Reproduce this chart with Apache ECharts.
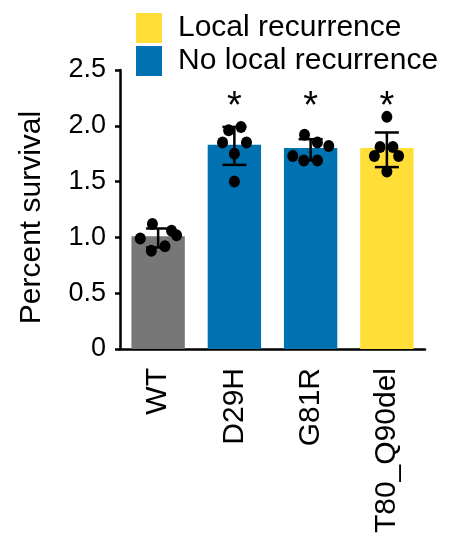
<!DOCTYPE html>
<html>
<head>
<meta charset="utf-8">
<script src="https://cdn.jsdelivr.net/npm/echarts@6/dist/echarts.min.js"></script>
<style>html,body{margin:0;padding:0;background:#fff}#c{width:459px;height:539px}</style>
</head>
<body>
<div id="c"></div>
<script>
// ---- data ----
var categories = ['WT', 'D29H', 'G81R', 'T80_Q90del'];
var groups = ['control', 'No local recurrence', 'No local recurrence', 'Local recurrence'];
var means = [1.01, 1.83, 1.80, 1.80];
var errLow = [0.91, 1.65, 1.69, 1.63];
var errHigh = [1.08, 1.99, 1.88, 1.94];
var points = [
  [1.12, 0.99, 1.06, 1.02, 0.88, 0.92],
  [1.96, 1.99, 1.85, 1.85, 1.75, 1.50],
  [1.92, 1.85, 1.82, 1.73, 1.69, 1.69],
  [2.08, 1.81, 1.81, 1.73, 1.73, 1.59]
];
var jitter = [
  [-0.075, -0.234, 0.176, 0.242, -0.089, 0.089],
  [-0.075, 0.087, -0.155, 0.159, 0, 0],
  [-0.08, 0.089, 0.238, -0.234, -0.089, 0.089],
  [0, -0.089, 0.079, -0.164, 0.154, 0]
];
var significance = ['', '*', '*', '*'];
var sigLevel = 2.16;
var yTicks = [0, 0.5, 1.0, 1.5, 2.0, 2.5];

// ---- build ----
var FONT = 'Liberation Sans, Arial, sans-serif';
var colors = { 'control': '#777777', 'No local recurrence': '#0072B2', 'Local recurrence': '#FFDE37' };
function barData(g) {
  return means.map(function (m, i) { return groups[i] === g ? m : null; });
}
var scatterData = [];
points.forEach(function (arr, i) {
  arr.forEach(function (v, k) { scatterData.push([i + jitter[i][k], v]); });
});
var errData = categories.map(function (c, i) { return [i, errLow[i], errHigh[i]]; });
var sigData = categories.map(function (c, i) { return significance[i] ? [i, sigLevel] : [i, null]; });

var chart = echarts.init(document.getElementById('c'), null, { renderer: 'canvas' });
chart.setOption({
  animation: false,
  textStyle: { fontFamily: FONT },
  legend: {
    orient: 'vertical', left: 136, top: 13, padding: 0,
    itemWidth: 26, itemHeight: 30, itemGap: 3, icon: 'rect',
    data: ['Local recurrence', 'No local recurrence'],
    textStyle: { fontSize: 30, color: '#000', fontFamily: FONT, padding: [8, 0, 0, 11] }
  },
  grid: { left: 120, right: 34, top: 70, bottom: 190, containLabel: false },
  xAxis: [{
    type: 'category', data: categories,
    axisLine: { onZero: false, lineStyle: { color: '#000', width: 2.5 } },
    axisTick: { alignWithLabel: true, length: 6, lineStyle: { color: '#000', width: 2.5 } },
    axisLabel: { rotate: 90, fontSize: 30, color: '#000', margin: 19, fontFamily: FONT }
  }, {
    type: 'value', min: -0.5, max: 3.5, show: false
  }],
  yAxis: {
    type: 'value', min: 0, max: 2.5, interval: 0.5,
    name: 'Percent survival', nameLocation: 'middle', nameGap: 73,
    nameTextStyle: { fontSize: 30, color: '#000', fontFamily: FONT, padding: [0, 16, 0, 0] },
    axisLine: { show: true, onZero: false, lineStyle: { color: '#000', width: 2.5 } },
    axisTick: { show: true, length: 5, lineStyle: { color: '#000', width: 2.5 } },
    splitLine: { show: false },
    axisLabel: {
      fontSize: 27, color: '#000', margin: 14, fontFamily: FONT,
      formatter: function (v) { return v === 0 ? '0' : v.toFixed(1); }
    }
  },
  series: [
    { type: 'bar', name: 'control', data: barData('control'), barWidth: '70%', barGap: '-100%', itemStyle: { color: colors.control } },
    { type: 'bar', name: 'No local recurrence', data: barData('No local recurrence'), barWidth: '70%', barGap: '-100%', itemStyle: { color: colors['No local recurrence'] } },
    { type: 'bar', name: 'Local recurrence', data: barData('Local recurrence'), barWidth: '70%', barGap: '-100%', itemStyle: { color: colors['Local recurrence'] } },
    {
      type: 'custom', name: 'err', data: errData, z: 5,
      renderItem: function (params, api) {
        var i = api.value(0);
        var lo = api.coord([i, api.value(1)]);
        var hi = api.coord([i, api.value(2)]);
        var hw = 12;
        var st = { stroke: '#000', lineWidth: 2.5 };
        return { type: 'group', children: [
          { type: 'line', shape: { x1: lo[0], y1: lo[1], x2: hi[0], y2: hi[1] }, style: st },
          { type: 'line', shape: { x1: lo[0] - hw, y1: lo[1], x2: lo[0] + hw, y2: lo[1] }, style: st },
          { type: 'line', shape: { x1: hi[0] - hw, y1: hi[1], x2: hi[0] + hw, y2: hi[1] }, style: st }
        ]};
      }
    },
    {
      type: 'scatter', name: 'pts', xAxisIndex: 1, data: scatterData, z: 6,
      symbol: 'circle', symbolSize: [11, 12], itemStyle: { color: '#000', opacity: 1 }
    },
    {
      type: 'scatter', name: 'sig', data: sigData, symbolSize: 0, z: 7,
      label: {
        show: true, position: 'inside', fontSize: 38, color: '#000', fontFamily: FONT,
        textBorderWidth: 0, textBorderColor: 'transparent', opacity: 1,
        formatter: function (p) { return significance[p.dataIndex]; }
      }
    }
  ]
});
</script>
</body>
</html>
